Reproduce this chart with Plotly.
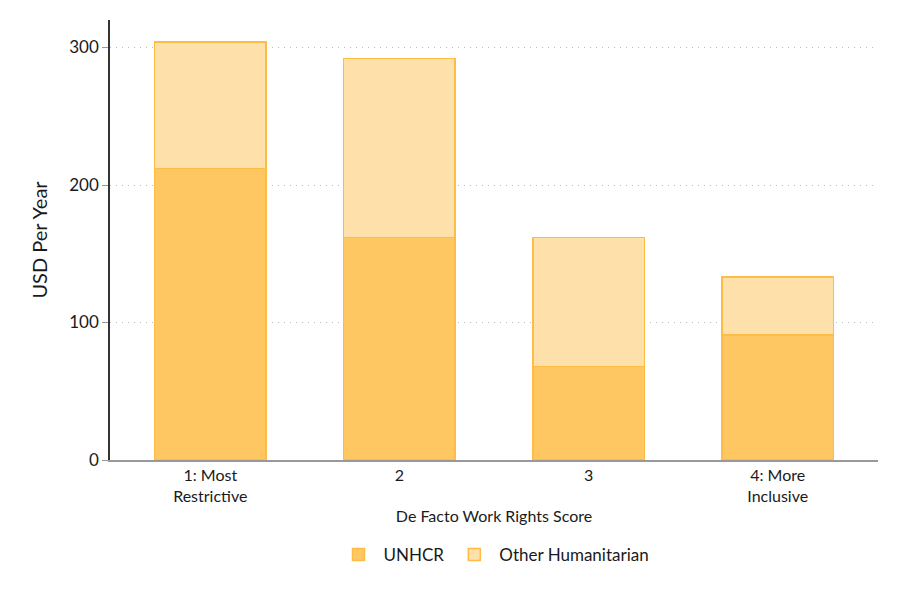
import plotly.graph_objects as go

# work rights score categories
categories = ["1: Most<br>Restrictive", "2", "3", "4: More<br>Inclusive"]
unhcr = [212, 162, 68, 91]
other_humanitarian = [92, 130, 94, 42]

y_ticks = [0, 100, 200, 300]

FONT = "Lato"
UNHCR_FILL = "#fec762"
OTHER_FILL = "#fee0ab"
EDGE = "#fdbc45"

fig = go.Figure()
fig.add_trace(go.Bar(
    x=categories, y=unhcr, name="UNHCR",
    marker=dict(color=UNHCR_FILL, line=dict(color=EDGE, width=1.5)),
    width=0.59,
))
fig.add_trace(go.Bar(
    x=categories, y=other_humanitarian, name="Other Humanitarian",
    marker=dict(color=OTHER_FILL, line=dict(color=EDGE, width=1.5)),
    width=0.59,
))

# the page body adds an 8px offset, margins account for it
fig.update_layout(
    barmode="stack",
    width=900, height=599,
    plot_bgcolor="white", paper_bgcolor="white",
    font=dict(family=FONT, size=16, color="#1a1a1a"),
    margin=dict(l=102, r=30, t=12, b=147, autoexpand=False),
    legend=dict(
        orientation="h", x=0.5, xanchor="center", y=-0.175, yanchor="top",
        font=dict(size=17), itemwidth=40, traceorder="normal",
    ),
    xaxis=dict(
        title=dict(text="De Facto Work Rights Score", font=dict(size=16), standoff=7),
        range=[-0.53, 3.53],
        automargin=False,
        showline=True, linecolor="#999999", linewidth=1.5,
        ticks="", tickfont=dict(size=16),
    ),
    yaxis=dict(
        title=dict(text="USD Per Year", font=dict(size=20), standoff=16),
        range=[0, 320],
        tickvals=y_ticks,
        automargin=False,
        showline=True, linecolor="#333333", linewidth=1.5,
        ticks="outside", tickcolor="#999999", ticklen=6,
        showgrid=True, gridcolor="#bbbbbb", griddash="1px,5px", gridwidth=1,
        zeroline=False,
        tickfont=dict(size=17),
    ),
)

fig.write_html("out.html")
